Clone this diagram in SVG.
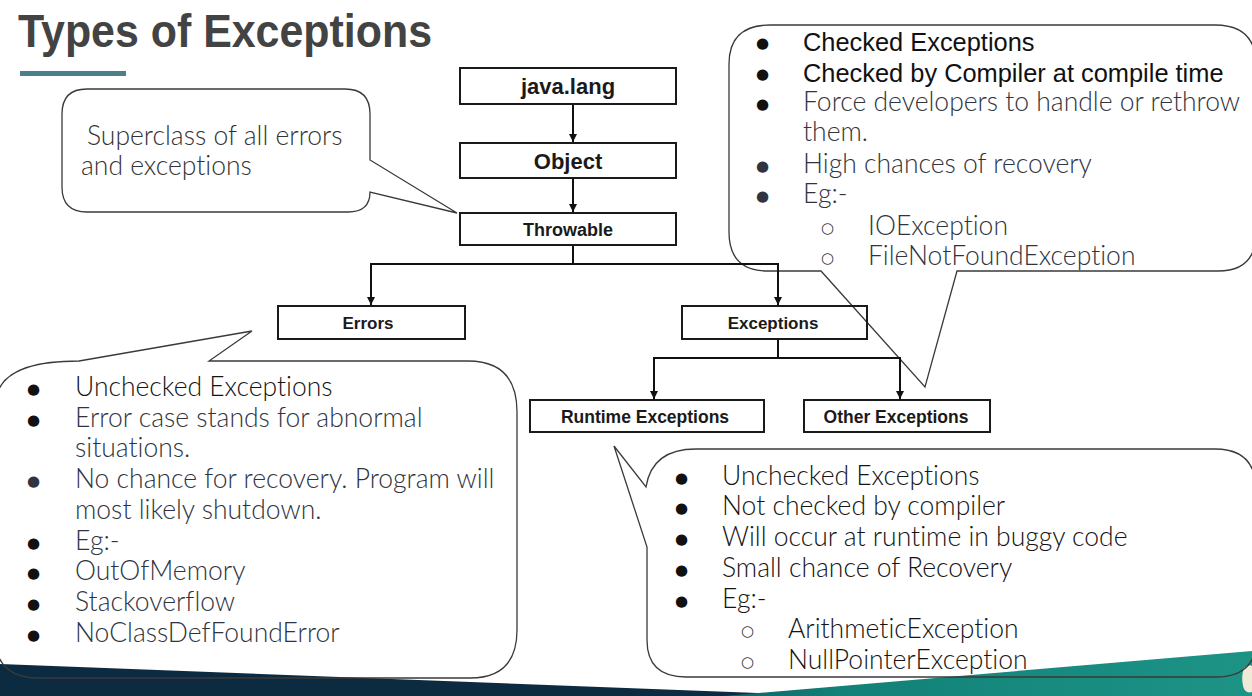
<svg xmlns="http://www.w3.org/2000/svg" width="1252" height="696" viewBox="0 0 1252 696">
  <style>
    .title { font-family: "Liberation Sans", Arial, sans-serif; font-weight: 700; font-size: 46px; fill: #434343; }
    .box { fill: none; stroke: #1a1a1a; stroke-width: 2; }
    .lbl { font-family: "Liberation Sans", Arial, sans-serif; font-weight: 700; fill: #1a1a1a; text-anchor: middle; }
    .wire { fill: none; stroke: #111; stroke-width: 2; }
    .callout { fill: none; stroke: #3a3a3a; stroke-width: 1.3; stroke-linejoin: miter; }
    .note { font-family: "Lato", "Open Sans", sans-serif; font-weight: 300; font-size: 26.5px; fill: #2f3440; font-variant-ligatures: none; }
    .note.dark { fill: #141414; }
    .note.soft { fill: #333333; }
    .arial { font-family: "Liberation Sans", Arial, sans-serif; font-weight: 400; font-size: 25.4px; fill: #111; }
    .dot { font-family: "DejaVu Sans", sans-serif; font-size: 15px; fill: #111; }
    .dot.grey { fill: #2f3440; }
    .ring { font-family: "DejaVu Sans", sans-serif; font-size: 15px; fill: #333; }
  </style>
  <defs>
    <marker id="arrow" viewBox="0 0 10 10" refX="10" refY="5" markerWidth="4" markerHeight="5" markerUnits="strokeWidth" orient="auto">
      <path d="M0,0 L10,5 L0,10 Z" fill="#111"/>
    </marker>
    <linearGradient id="tealBand" x1="700" y1="0" x2="1252" y2="0" gradientUnits="userSpaceOnUse">
      <stop offset="0" stop-color="#0f5a62"/>
      <stop offset="0.25" stop-color="#128177"/>
      <stop offset="1" stop-color="#1d9386"/>
    </linearGradient>
  </defs>

  <rect width="1252" height="696" fill="#ffffff"/>

  <!-- footer band -->
  <g id="footer">
    <path d="M0,664 L860,697 L0,697 Z" fill="#0c2b40"/>
    <path d="M712,697 L1252,651 L1252,697 Z" fill="url(#tealBand)"/>
    <path d="M1244,668 q5,-4 8,-2 l0,26 q-7,2 -9,-6 q-2,-10 1,-18 Z" fill="#efe9d8"/>
  </g>

  <!-- heading -->
  <g id="heading">
    <text class="title" x="18" y="47" textLength="414" lengthAdjust="spacingAndGlyphs">Types of Exceptions</text>
    <rect x="20" y="71" width="106" height="5" fill="#4a7f8c"/>
  </g>

  <!-- callouts -->
  <g id="note-throwable">
    <path class="callout" d="M87,89 L345,89 Q370,89 370,114 L370,160 L457,213 L370,192 Q370,212 348,212 L87,212 Q62,212 62,187 L62,114 Q62,89 87,89 Z"/>
    <text class="note soft" x="87" y="145">Superclass of all errors</text>
    <text class="note soft" x="81" y="175">and exceptions</text>
  </g>

  <g id="note-checked">
    <path class="callout" d="M770,25 L1215,25 Q1256,25 1256,65 L1256,233 Q1256,271 1218,271 L957,271 L925,387 L821,271 L768,271 Q729,271 729,232 L729,64 Q729,25 770,25 Z"/>
    <text class="dot" x="756" y="48">●</text>
    <text class="arial" x="803" y="51">Checked Exceptions</text>
    <text class="dot" x="756" y="79">●</text>
    <text class="arial" x="803" y="82">Checked by Compiler at compile time</text>
    <text class="dot" x="756" y="109">●</text>
    <text class="note" x="803" y="111">Force developers to handle or rethrow</text>
    <text class="note" x="803" y="141">them.</text>
    <text class="dot grey" x="756" y="171">●</text>
    <text class="note" x="803" y="173">High chances of recovery</text>
    <text class="dot grey" x="756" y="201">●</text>
    <text class="note" x="803" y="203">Eg:-</text>
    <text class="ring" x="821" y="233">○</text>
    <text class="note" x="868" y="235">IOException</text>
    <text class="ring" x="821" y="263">○</text>
    <text class="note" x="868" y="265">FileNotFoundException</text>
  </g>

  <g id="note-errors">
    <path class="callout" d="M79,361 L252,331 L209,361 L468,361 Q517,361 517,412 L517,630 Q517,678 470,678 L38,678 Q4,678 -4,650 L-4,400 Q0,361 79,361 Z"/>
    <text class="dot" x="27" y="394">●</text>
    <text class="note dark" x="75" y="396">Unchecked Exceptions</text>
    <text class="dot" x="27" y="425">●</text>
    <text class="note" x="75" y="427">Error case stands for abnormal</text>
    <text class="note" x="75" y="457">situations.</text>
    <text class="dot grey" x="27" y="486">●</text>
    <text class="note" x="75" y="488">No chance for recovery. Program will</text>
    <text class="note" x="75" y="519">most likely shutdown.</text>
    <text class="dot" x="27" y="548">●</text>
    <text class="note" x="75" y="550">Eg:-</text>
    <text class="dot" x="27" y="578">●</text>
    <text class="note" x="75" y="580">OutOfMemory</text>
    <text class="dot" x="27" y="609">●</text>
    <text class="note" x="75" y="611">Stackoverflow</text>
    <text class="dot" x="27" y="640">●</text>
    <text class="note" x="75" y="642">NoClassDefFoundError</text>
  </g>

  <g id="note-runtime">
    <path class="callout" d="M696,449 L1215,449 Q1256,449 1256,490 L1256,640 Q1256,677 1215,677 L686,677 Q647,677 647,640 L647,547 L614,446 L646,487 Q652,449 696,449 Z"/>
    <text class="dot" x="675" y="483">●</text>
    <text class="note dark" x="722" y="485">Unchecked Exceptions</text>
    <text class="dot" x="675" y="513">●</text>
    <text class="note dark" x="722" y="515">Not checked by compiler</text>
    <text class="dot" x="675" y="544">●</text>
    <text class="note dark" x="722" y="546">Will occur at runtime in buggy code</text>
    <text class="dot" x="675" y="575">●</text>
    <text class="note dark" x="722" y="577">Small chance of Recovery</text>
    <text class="dot" x="675" y="606">●</text>
    <text class="note dark" x="722" y="608">Eg:-</text>
    <text class="ring" x="741" y="636">○</text>
    <text class="note dark" x="788" y="638">ArithmeticException</text>
    <text class="ring" x="741" y="667">○</text>
    <text class="note dark" x="788" y="669">NullPointerException</text>
  </g>

  <!-- hierarchy connectors -->
  <g id="connectors">
    <path class="wire" d="M573,104 V142" marker-end="url(#arrow)"/>
    <path class="wire" d="M573,178 V212" marker-end="url(#arrow)"/>
    <path class="wire" d="M573,245 V264 M370,264 H779"/>
    <path class="wire" d="M371,263 V305" marker-end="url(#arrow)"/>
    <path class="wire" d="M778,263 V305" marker-end="url(#arrow)"/>
    <path class="wire" d="M778,339 V358 M653,358 H901"/>
    <path class="wire" d="M654,357 V399" marker-end="url(#arrow)"/>
    <path class="wire" d="M900,357 V399" marker-end="url(#arrow)"/>
  </g>

  <!-- hierarchy nodes -->
  <g id="java-lang">
    <rect class="box" x="460" y="68" width="216" height="36"/>
    <text class="lbl" x="568" y="94" font-size="22">java.lang</text>
  </g>
  <g id="object">
    <rect class="box" x="460" y="143" width="216" height="35"/>
    <text class="lbl" x="568" y="169" font-size="22">Object</text>
  </g>
  <g id="throwable">
    <rect class="box" x="460" y="213" width="216" height="32"/>
    <text class="lbl" x="568" y="236" font-size="18">Throwable</text>
  </g>
  <g id="errors">
    <rect class="box" x="278" y="306" width="187" height="33"/>
    <text class="lbl" x="368" y="329" font-size="17">Errors</text>
  </g>
  <g id="exceptions">
    <rect class="box" x="682" y="306" width="185" height="33"/>
    <text class="lbl" x="773" y="329" font-size="17">Exceptions</text>
  </g>
  <g id="runtime-exceptions">
    <rect class="box" x="530" y="400" width="234" height="32"/>
    <text class="lbl" x="645" y="423" font-size="17.5">Runtime Exceptions</text>
  </g>
  <g id="other-exceptions">
    <rect class="box" x="804" y="400" width="186" height="32"/>
    <text class="lbl" x="896" y="423" font-size="17.5">Other Exceptions</text>
  </g>
</svg>
